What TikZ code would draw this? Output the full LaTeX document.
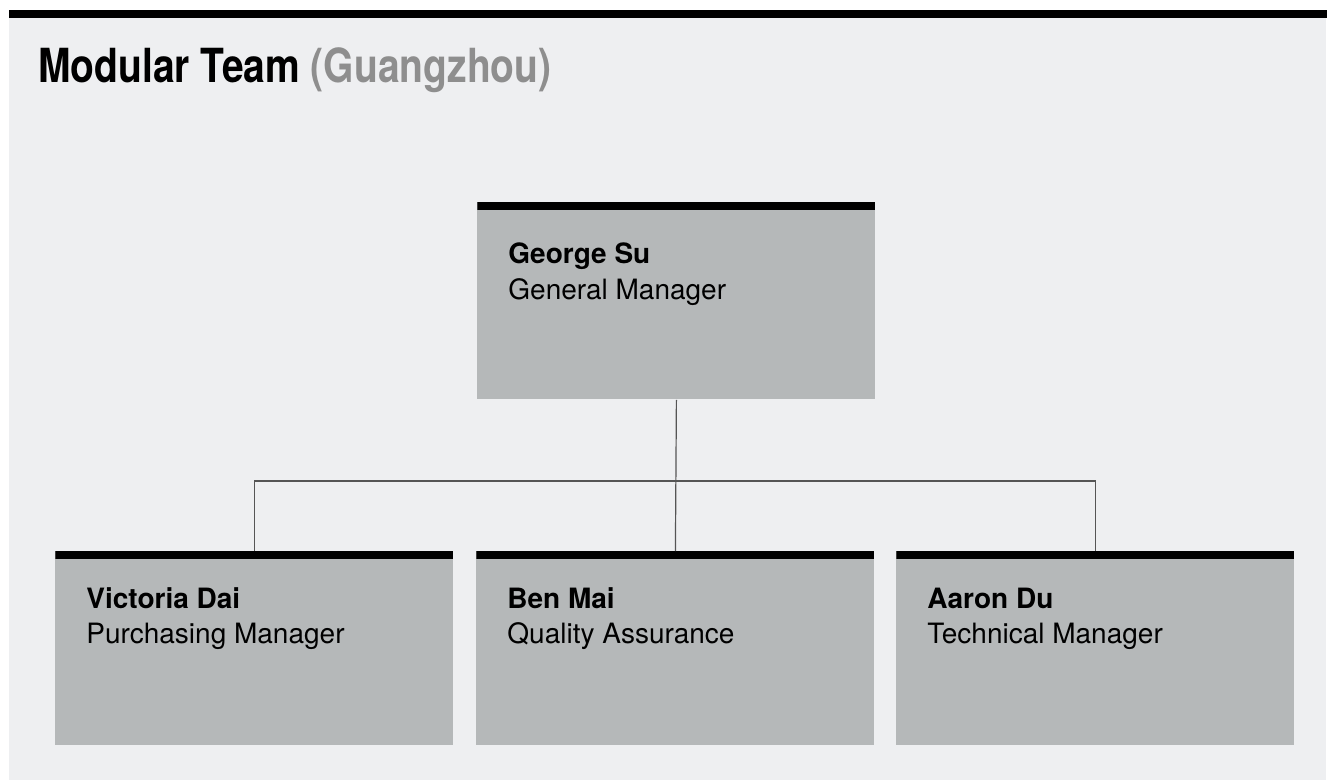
\documentclass[tikz,border=0pt]{standalone}
\usepackage{fontspec}
\usepackage{graphicx}
\setmainfont{TeX Gyre Heros}
\usetikzlibrary{positioning}

\definecolor{bggray}{HTML}{EEEFF1}
\definecolor{boxgray}{HTML}{B5B8B9}
\definecolor{citygray}{HTML}{8E8E8E}
\definecolor{linkgray}{HTML}{555555}

\tikzset{
  orgbox/.style={rectangle, fill=boxgray, anchor=north west, inner sep=0pt,
    minimum width=199pt, minimum height=97pt,
    path picture={\fill[black] (path picture bounding box.north west)
      rectangle ([yshift=-4pt]path picture bounding box.north east);}},
  personname/.style={anchor=base west, inner sep=0pt, font=\fontsize{14}{17}\selectfont\bfseries},
  personrole/.style={anchor=base west, inner sep=0pt, font=\fontsize{14}{17}\selectfont},
  link/.style={draw=linkgray, line width=0.6pt}
}

\begin{document}
\begin{tikzpicture}[x=0.5pt, y=-0.5pt]
  \useasboundingbox (0,0) rectangle (1327,781);

  % Background and top rule
  \fill[bggray] (9,10) rectangle (1326,780);
  \fill[black] (9,10) rectangle (1327,18);

  % Title
  \node[anchor=base west, inner sep=0pt, font=\fontsize{23.5}{28}\selectfont\bfseries] (title) at (38,83)
    {\scalebox{0.83}[1]{Modular Team \textcolor{citygray}{(Guangzhou)}}};

  % Boxes
  \node[orgbox, minimum height=98.5pt] (gs) at (477,202) {};
  \node[orgbox] (vd) at (55,551) {};
  \node[orgbox] (bm) at (476,551) {};
  \node[orgbox] (ad) at (896,551) {};

  % Names and roles
  \node[personname] (gs-name) at ([xshift=15.5pt, yshift=-30.5pt]gs.north west) {George Su};
  \node[personrole] (gs-role) at ([yshift=-18pt]gs-name.base west) {General Manager};
  \node[personname] (vd-name) at ([xshift=15.5pt, yshift=-28.5pt]vd.north west) {Victoria Dai};
  \node[personrole] (vd-role) at ([yshift=-17.5pt]vd-name.base west) {Purchasing Manager};
  \node[personname] (bm-name) at ([xshift=15.5pt, yshift=-28.5pt]bm.north west) {Ben Mai};
  \node[personrole] (bm-role) at ([yshift=-17.5pt]bm-name.base west) {Quality Assurance};
  \node[personname] (ad-name) at ([xshift=15.5pt, yshift=-28.5pt]ad.north west) {Aaron Du};
  \node[personrole] (ad-role) at ([yshift=-17.5pt]ad-name.base west) {Technical Manager};

  % Connectors
  \coordinate (split) at (676,481);
  \draw[link] (gs.south) -- (bm.north);
  \draw[link] (vd.north) |- (split) -| (ad.north);
\end{tikzpicture}
\end{document}
